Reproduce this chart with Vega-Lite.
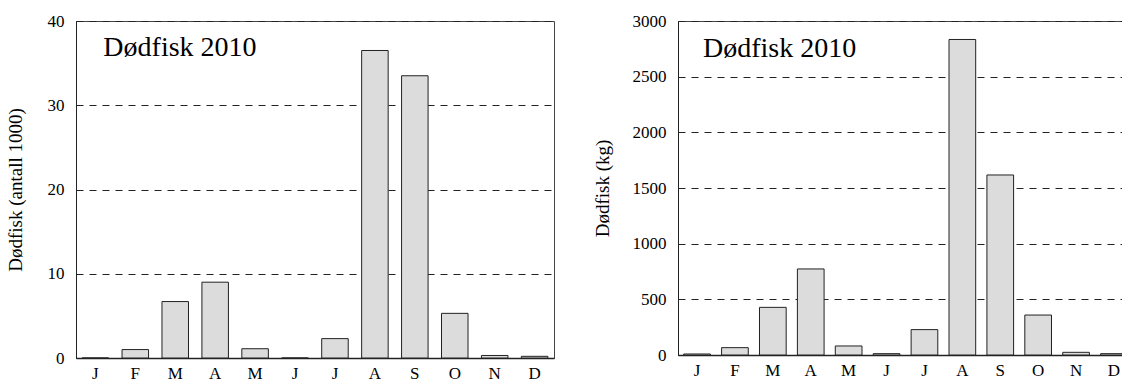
{
  "$schema": "https://vega.github.io/schema/vega-lite/v6.json",
  "padding": {"left": 5, "top": 11, "right": 0, "bottom": 0},
  "spacing": 37,
  "config": {
    "font": "Liberation Serif",
    "view": {"stroke": "#444", "strokeWidth": 1},
    "axis": {
      "labelFont": "Liberation Serif",
      "titleFont": "Liberation Serif",
      "labelColor": "#000",
      "titleColor": "#000",
      "titleFontWeight": "normal",
      "ticks": false,
      "domainColor": "#222",
      "gridColor": "#222",
      "gridDash": [7, 6],
      "labelPadding": 12
    }
  },
  "datasets": {
    "fish": [
      {"month": "Jan", "antall": 0, "kg": 9},
      {"month": "Feb", "antall": 1.0, "kg": 66},
      {"month": "Mar", "antall": 6.7, "kg": 428},
      {"month": "Apr", "antall": 9.0, "kg": 773},
      {"month": "May", "antall": 1.1, "kg": 81},
      {"month": "Jun", "antall": 0, "kg": 12},
      {"month": "Jul", "antall": 2.3, "kg": 228},
      {"month": "Aug", "antall": 36.5, "kg": 2834},
      {"month": "Sep", "antall": 33.5, "kg": 1617},
      {"month": "Oct", "antall": 5.3, "kg": 359},
      {"month": "Nov", "antall": 0.3, "kg": 24},
      {"month": "Dec", "antall": 0.2, "kg": 12}
    ],
    "label": [{"t": "Dødfisk 2010"}]
  },
  "hconcat": [
    {
      "width": 478,
      "height": 337,
      "layer": [
        {
          "data": {"name": "fish"},
          "mark": {"type": "bar", "fill": "#dcdcdc", "stroke": "#222", "strokeWidth": 1},
          "encoding": {
            "x": {
              "field": "month", "type": "ordinal", "sort": null,
              "scale": {"paddingInner": 0.336, "paddingOuter": 0.153},
              "axis": {"title": null, "labelExpr": "substring(datum.label,0,1)", "labelAngle": 0, "labelFontSize": 17, "labelPadding": 7, "grid": false, "domainWidth": 1.5}
            },
            "y": {
              "field": "antall", "type": "quantitative",
              "scale": {"domain": [0, 40]},
              "axis": {"title": "Dødfisk (antall 1000)", "values": [0, 10, 20, 30, 40], "format": "d", "labelFontSize": 17, "titleFontSize": 19, "grid": true, "titlePadding": 22}
            }
          }
        },
        {
          "data": {"name": "label"},
          "mark": {"type": "text", "align": "left", "baseline": "alphabetic", "fontSize": 28, "dx": 8, "font": "Liberation Serif", "color": "#000"},
          "encoding": {
            "x": {"datum": "Jan", "type": "ordinal"},
            "y": {"datum": 35.8, "type": "quantitative"},
            "text": {"field": "t"}
          }
        }
      ]
    },
    {
      "width": 455,
      "height": 334,
      "layer": [
        {
          "data": {"name": "fish"},
          "mark": {"type": "bar", "fill": "#dcdcdc", "stroke": "#222", "strokeWidth": 1},
          "encoding": {
            "x": {
              "field": "month", "type": "ordinal", "sort": null,
              "scale": {"paddingInner": 0.296, "paddingOuter": 0.15},
              "axis": {"title": null, "labelExpr": "substring(datum.label,0,1)", "labelAngle": 0, "labelFontSize": 17, "labelPadding": 7, "grid": false, "domainWidth": 1.5}
            },
            "y": {
              "field": "kg", "type": "quantitative",
              "scale": {"domain": [0, 3000]},
              "axis": {"title": "Dødfisk (kg)", "values": [0, 500, 1000, 1500, 2000, 2500, 3000], "format": "d", "labelFontSize": 17, "titleFontSize": 19, "grid": true, "titlePadding": 20}
            }
          }
        },
        {
          "data": {"name": "label"},
          "mark": {"type": "text", "align": "left", "baseline": "alphabetic", "fontSize": 28, "dx": 6, "font": "Liberation Serif", "color": "#000"},
          "encoding": {
            "x": {"datum": "Jan", "type": "ordinal"},
            "y": {"datum": 2677, "type": "quantitative"},
            "text": {"field": "t"}
          }
        }
      ]
    }
  ]
}
